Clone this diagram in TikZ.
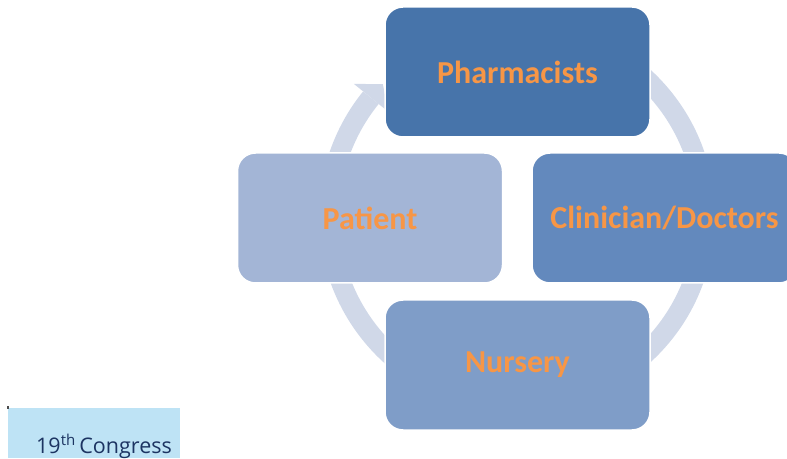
\documentclass[tikz,border=0pt]{standalone}
\usepackage{fontspec}
\setmainfont{Carlito}
\newfontfamily\congressfont{Open Sans}
\usetikzlibrary{calc}
\definecolor{ringc}{RGB}{208,216,232}
\definecolor{pharmc}{RGB}{71,116,170}
\definecolor{clinc}{RGB}{99,137,189}
\definecolor{nursc}{RGB}{127,157,200}
\definecolor{patc}{RGB}{163,181,214}
\definecolor{txtc}{RGB}{247,150,70}
\definecolor{congbg}{RGB}{190,227,245}
\definecolor{congtxt}{RGB}{28,52,98}
\tikzset{
  blockbox/.style={rectangle, rounded corners=18pt, minimum width=265pt, minimum height=130pt,
    draw=white, line width=1.5pt, text=txtc, font=\fontsize{32}{36}\selectfont\bfseries, inner sep=0pt},
  ringline/.style={draw=ringc, line width=20pt},
}
\begin{document}
\begin{tikzpicture}[x=1pt,y=1pt]
\useasboundingbox (0,0) rectangle (787,458);
\clip (0,0) rectangle (787,458);
\coordinate (c) at (517,242);
% ring
\draw[ringline] ($(c)+(130:188)$) arc[start angle=130, end angle=-219, radius=188];
\fill[ringc] ($(c)+(141:166)$) -- ($(c)+(135.5:188)$) -- ($(c)+(141:210)$) -- cycle;
% boxes
\node[blockbox, fill=pharmc] (pharm) at (517.5,386) {Pharmacists};
\node[blockbox, fill=clinc] (clin) at (664.5,240) {Clinician/Doctors};
\node[blockbox, fill=nursc] (nurs) at (517.5,93) {Nursery};
\node[blockbox, fill=patc] (pat) at (370,240) {Patient};
% congress label
\fill[congbg] (8,0) rectangle (180,50);
\fill[black!70] (7,49) rectangle (9,52);
\node[anchor=base west, inner sep=0pt, text=congtxt, font=\congressfont\fontsize{21.5}{24}\selectfont] (cong) at (36,5) {19\textsuperscript{th}\,Congress};
\end{tikzpicture}
\end{document}
